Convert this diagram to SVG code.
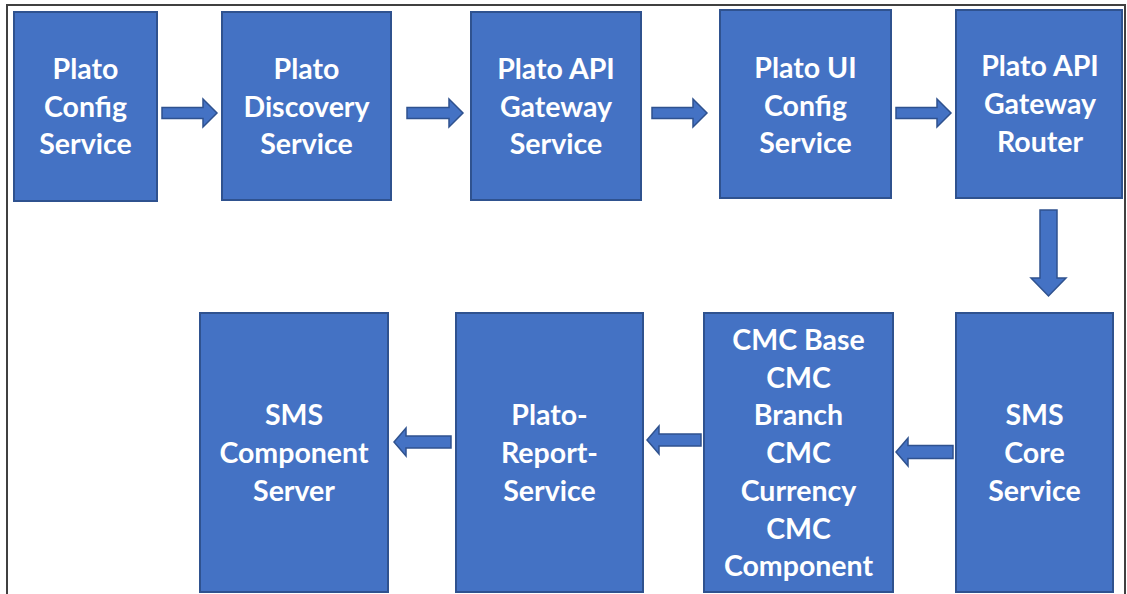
<svg xmlns="http://www.w3.org/2000/svg" width="1127" height="594" viewBox="0 0 1127 594">
<style>
.box{fill:#4472C4;stroke:#2F528F;stroke-width:2}
.arr{fill:#4472C4;stroke:#2F528F;stroke-width:1.5;stroke-linejoin:miter}
.t{font-family:Lato,"Open Sans",sans-serif;font-weight:bold;font-size:28.5px;fill:#FFFFFF;text-anchor:middle}
</style>
<rect width="1127" height="594" fill="#FFFFFF"/>
<path d="M7,600 V5 H1125 V600" fill="none" stroke="#404040" stroke-width="2"/>
<g id="n1"><rect class="box" x="14" y="12" width="143" height="189"/>
<text class="t"><tspan x="85.5" y="79">Plato</tspan><tspan x="85.5" y="117">Config</tspan><tspan x="85.5" y="154">Service</tspan></text></g>
<g id="n2"><rect class="box" x="222" y="12" width="169" height="188"/>
<text class="t"><tspan x="306.5" y="79">Plato</tspan><tspan x="306.5" y="117">Discovery</tspan><tspan x="306.5" y="154">Service</tspan></text></g>
<g id="n3"><rect class="box" x="471" y="12" width="170" height="188"/>
<text class="t"><tspan x="556" y="79">Plato API</tspan><tspan x="556" y="117">Gateway</tspan><tspan x="556" y="154">Service</tspan></text></g>
<g id="n4"><rect class="box" x="720" y="10" width="171" height="188"/>
<text class="t"><tspan x="805.5" y="78">Plato UI</tspan><tspan x="805.5" y="116">Config</tspan><tspan x="805.5" y="153">Service</tspan></text></g>
<g id="n5"><rect class="box" x="956" y="10" width="166" height="188"/>
<text class="t"><tspan x="1040" y="76">Plato API</tspan><tspan x="1040" y="114">Gateway</tspan><tspan x="1040" y="152">Router</tspan></text></g>
<g id="n6"><rect class="box" x="200" y="313" width="188" height="279"/>
<text class="t"><tspan x="294" y="425">SMS</tspan><tspan x="294" y="463">Component</tspan><tspan x="294" y="501">Server</tspan></text></g>
<g id="n7"><rect class="box" x="456" y="313" width="187" height="279"/>
<text class="t"><tspan x="549.5" y="425">Plato-</tspan><tspan x="549.5" y="463">Report-</tspan><tspan x="549.5" y="501">Service</tspan></text></g>
<g id="n8"><rect class="box" x="704" y="313" width="189" height="279"/>
<text class="t"><tspan x="798.5" y="350">CMC Base</tspan><tspan x="798.5" y="388">CMC</tspan><tspan x="798.5" y="425">Branch</tspan><tspan x="798.5" y="463">CMC</tspan><tspan x="798.5" y="501">Currency</tspan><tspan x="798.5" y="539">CMC</tspan><tspan x="798.5" y="576">Component</tspan></text></g>
<g id="n9"><rect class="box" x="956" y="313" width="157" height="279"/>
<text class="t"><tspan x="1034.5" y="425">SMS</tspan><tspan x="1034.5" y="463">Core</tspan><tspan x="1034.5" y="501">Service</tspan></text></g>
<g id="connectors">
<path class="arr" d="M162,107.5 H203 V99 L217,113 L203,127 V118.5 H162 Z"/>
<path class="arr" d="M407,107.5 H449 V99 L463,113 L449,127 V118.5 H407 Z"/>
<path class="arr" d="M652,107.5 H693 V99 L707,113 L693,127 V118.5 H652 Z"/>
<path class="arr" d="M896,107.5 H937 V99 L951,113 L937,127 V118.5 H896 Z"/>
<path class="arr" d="M1040,210 H1057 V278 H1066 L1048.5,296 L1031,278 H1040 Z"/>
<path class="arr" d="M953,445.5 H908 V438 L896,452 L908,466 V458.5 H953 Z"/>
<path class="arr" d="M701,434 H659 V426 L647,440 L659,454 V446 H701 Z"/>
<path class="arr" d="M451,436 H406 V428 L394,442 L406,456 V448 H451 Z"/>
</g>
</svg>
